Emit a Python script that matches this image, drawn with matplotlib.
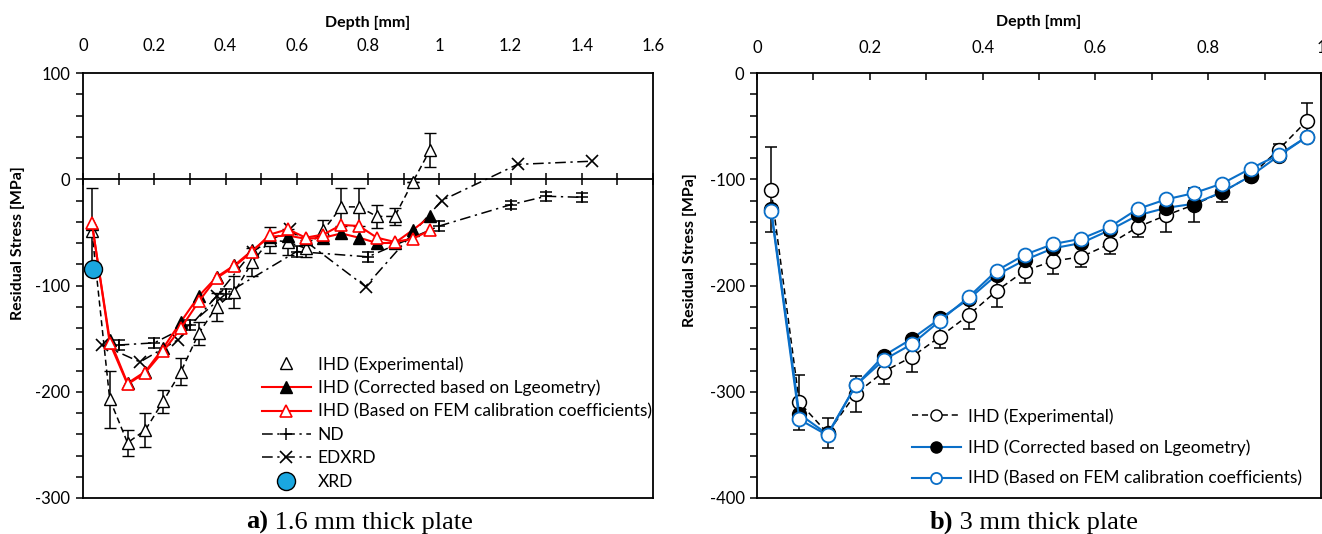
import matplotlib
matplotlib.use("Agg")
import matplotlib.pyplot as plt
from matplotlib.lines import Line2D
from matplotlib.ticker import MultipleLocator, FuncFormatter

plt.rcParams['font.family'] = ['Lato', 'DejaVu Sans']
plt.rcParams['axes.unicode_minus'] = False

# ---------------- data: a) 1.6 mm plate ----------------
depth_a = [0.025, 0.075, 0.125, 0.175, 0.225, 0.275, 0.325, 0.375, 0.425, 0.475,
           0.525, 0.575, 0.625, 0.675, 0.725, 0.775, 0.825, 0.875, 0.925, 0.975]
exp_a = [-49, -207, -248, -236, -209, -181, -145, -120, -106, -78,
         -57, -59, -65, -48, -26, -26, -35, -35, -3, 28]
exp_a_err = [41, 27, 12, 16, 11, 13, 11, 13, 15, 13,
             12, 12, 8, 10, 18, 18, 11, 8, 0, 16]
corr_a = [-42, -151, -192, -181, -159, -134, -110, -92, -81, -67,
          -54, -53, -56, -55, -51, -55, -60, -60, -48, -35]
fem_a = [-41, -154, -193, -182, -162, -140, -115, -93, -82, -68,
         -52, -47, -55, -52, -43, -44, -55, -59, -56, -48]

nd_depth = [0.1, 0.2, 0.3, 0.4, 0.6, 0.8, 1.0, 1.2, 1.3, 1.4]
nd_stress = [-156, -154, -137, -108, -68, -73, -44, -24, -16, -17]
nd_err = [5, 5, 5, 5, 5, 5, 5, 4, 4, 4]

edxrd_depth = [0.054, 0.16, 0.267, 0.375, 0.476, 0.58, 0.793, 1.007, 1.22, 1.43]
edxrd_stress = [-156, -172, -151, -110, -68, -47, -101, -20, 14, 17]

xrd_depth = [0.028]
xrd_stress = [-84]

# ---------------- data: b) 3 mm plate ----------------
depth_b = depth_a
exp_b = [-110, -310, -339, -302, -281, -267, -248, -228, -205, -186,
         -177, -173, -161, -145, -134, -124, -112, -97, -72, -45]
exp_b_err = [40, 26, 14, 17, 12, 14, 11, 13, 15, 12,
             12, 10, 9, 9, 16, 16, 9, 5, 5, 17]
corr_b = [-128, -321, -340, -294, -266, -250, -231, -213, -190, -176,
          -165, -160, -148, -134, -127, -123, -112, -97, -78, -60]
fem_b = [-130, -326, -341, -294, -270, -255, -233, -211, -186, -171,
         -161, -156, -145, -128, -119, -113, -104, -90, -77, -60]

labels_a = ['IHD (Experimental)', 'IHD (Corrected based on Lgeometry)',
            'IHD (Based on FEM calibration coefficients)', 'ND', 'EDXRD', 'XRD']
labels_b = labels_a[:3]

RED = '#ff0000'
BLUE = '#0a6fc8'
XRDC = '#1aa7e0'

W, H = 1322, 534
fig = plt.figure(figsize=(W / 100, H / 100), dpi=100)

def px_axes(x0, x1, ytop, ybot):
    return fig.add_axes([x0 / W, 1 - ybot / H, (x1 - x0) / W, (ybot - ytop) / H])

TICKFS = 12
LABFS = 11.5
LEGFS = 12.5

dash_exp = (0, (4, 2.5))
dashdot = (0, (7, 3, 1.5, 3))

# ================= left panel =================
ax = px_axes(83, 653, 73, 498)
ax.set_xlim(0, 1.6)
ax.set_ylim(-300, 100)

ax.errorbar(depth_a, exp_a, yerr=exp_a_err, color='k', ls=dash_exp, lw=1.1,
            marker='^', mfc='white', mec='k', ms=9, mew=1.0,
            ecolor='k', elinewidth=1.1, capsize=4, capthick=1.1, zorder=3)
ax.plot(nd_depth, nd_stress, color='k', ls=dashdot, lw=1.1, zorder=2)
ax.errorbar(nd_depth, nd_stress, yerr=nd_err, color='k', ls='none',
            marker='+', ms=9, mew=1.1, ecolor='k', elinewidth=1.1,
            capsize=4, capthick=1.1, zorder=3)
ax.plot(edxrd_depth, edxrd_stress, color='k', ls=dashdot, lw=1.1,
        marker='x', ms=8, mew=1.2, zorder=3)
ax.plot(depth_a, corr_a, color=RED, lw=1.5, marker='^', mfc='k', mec='k',
        ms=9, zorder=4)
ax.plot(depth_a, fem_a, color=RED, lw=1.5, marker='^', mfc='white', mec=RED,
        ms=9, mew=1.2, zorder=5)
ax.plot(xrd_depth, xrd_stress, ls='none', marker='o', ms=13, mfc=XRDC,
        mec='k', mew=1.0, zorder=6)

ax.spines['bottom'].set_position(('data', 0))
for s in ax.spines.values():
    s.set_linewidth(1.3)
ax.axhline(-300, color='k', lw=1.3, clip_on=False, zorder=10)

ax.xaxis.set_major_locator(MultipleLocator(0.2))
ax.xaxis.set_minor_locator(MultipleLocator(0.1))
ax.xaxis.set_major_formatter(FuncFormatter(lambda v, p: f'{v:g}'))
ax.tick_params(axis='x', which='both', bottom=True, top=False,
               labelbottom=False, labeltop=True, direction='inout',
               length=9, width=1.1, labelsize=TICKFS)
ax.tick_params(axis='x', which='major', pad=9)
ax.yaxis.set_major_locator(MultipleLocator(100))
ax.yaxis.set_minor_locator(MultipleLocator(20))
ax.tick_params(axis='y', which='both', direction='out', length=5, width=1.1,
               labelsize=TICKFS, pad=4)
ax.set_xlabel('Depth [mm]', fontsize=LABFS, fontweight='bold', labelpad=8)
ax.xaxis.set_label_position('top')
ax.set_ylabel('Residual Stress [MPa]', fontsize=LABFS, fontweight='bold')
ax.yaxis.set_label_coords(-58 / 570, (498 - 243) / 425)

h_a = [
    Line2D([], [], ls='none', marker='^', mfc='white', mec='k', ms=9),
    Line2D([], [], color=RED, lw=1.5, marker='^', mfc='k', mec='k', ms=9),
    Line2D([], [], color=RED, lw=1.5, marker='^', mfc='white', mec=RED, ms=9, mew=1.2),
    Line2D([], [], color='k', ls=dashdot, lw=1.1, marker='+', ms=9, mew=1.1),
    Line2D([], [], color='k', ls=dashdot, lw=1.1, marker='x', ms=8, mew=1.2),
    Line2D([], [], ls='none', marker='o', ms=13, mfc=XRDC, mec='k'),
]
ax.legend(h_a, labels_a, loc='upper left',
          bbox_to_anchor=(262 / W, 1 - 356 / H), bbox_transform=fig.transFigure,
          frameon=False, fontsize=LEGFS, handlelength=2.8,
          handletextpad=0.4, labelspacing=0.42, borderpad=0, borderaxespad=0)

# ================= right panel =================
bx = px_axes(757, 1321, 73, 498)
bx.set_xlim(0, 1.0)
bx.set_ylim(-400, 0)

bx.errorbar(depth_b, exp_b, yerr=exp_b_err, color='k', ls=dash_exp, lw=1.1,
            marker='o', mfc='white', mec='k', ms=10, mew=1.1,
            ecolor='k', elinewidth=1.1, capsize=4, capthick=1.1, zorder=3)
bx.plot(depth_b, corr_b, color=BLUE, lw=1.5, marker='o', mfc='k', mec='k',
        ms=10, zorder=4)
bx.plot(depth_b, fem_b, color=BLUE, lw=1.5, marker='o', mfc='white', mec=BLUE,
        ms=10, mew=1.3, zorder=5)

for s in bx.spines.values():
    s.set_linewidth(1.3)
bx.xaxis.set_major_locator(MultipleLocator(0.2))
bx.xaxis.set_minor_locator(MultipleLocator(0.1))
bx.xaxis.set_major_formatter(FuncFormatter(lambda v, p: f'{v:g}'))
bx.tick_params(axis='x', which='both', bottom=False, top=True,
               labelbottom=False, labeltop=True, direction='in',
               length=5, width=1.1, labelsize=TICKFS, pad=12)
bx.yaxis.set_major_locator(MultipleLocator(100))
bx.yaxis.set_minor_locator(MultipleLocator(20))
bx.tick_params(axis='y', which='both', direction='out', length=5, width=1.1,
               labelsize=TICKFS, pad=4)
bx.set_xlabel('Depth [mm]', fontsize=LABFS, fontweight='bold', labelpad=10)
bx.xaxis.set_label_position('top')
bx.set_ylabel('Residual Stress [MPa]', fontsize=LABFS, fontweight='bold')
bx.yaxis.set_label_coords(-60 / 564, (498 - 250) / 425)

h_b = [
    Line2D([], [], color='k', ls=dash_exp, lw=1.1, marker='o', mfc='white', mec='k', ms=8),
    Line2D([], [], color=BLUE, lw=1.5, marker='o', mfc='k', mec='k', ms=8),
    Line2D([], [], color=BLUE, lw=1.5, marker='o', mfc='white', mec=BLUE, ms=8, mew=1.3),
]
bx.legend(h_b, labels_b, loc='upper left',
          bbox_to_anchor=(912 / W, 1 - 408 / H), bbox_transform=fig.transFigure,
          frameon=False, fontsize=LEGFS, handlelength=2.8,
          handletextpad=0.4, labelspacing=0.85, borderpad=0, borderaxespad=0)

# captions
CAPFS = 19
fig.text(268 / W, 1 - 529 / H, 'a)', ha='right', va='baseline', fontsize=CAPFS,
         fontweight='bold', family='Liberation Serif')
fig.text(268 / W, 1 - 529 / H, ' 1.6 mm thick plate', ha='left', va='baseline',
         fontsize=CAPFS, family='Liberation Serif')
fig.text(953 / W, 1 - 529 / H, 'b)', ha='right', va='baseline', fontsize=CAPFS,
         fontweight='bold', family='Liberation Serif')
fig.text(953 / W, 1 - 529 / H, ' 3 mm thick plate', ha='left', va='baseline',
         fontsize=CAPFS, family='Liberation Serif')

fig.savefig('out.png', dpi=100)
